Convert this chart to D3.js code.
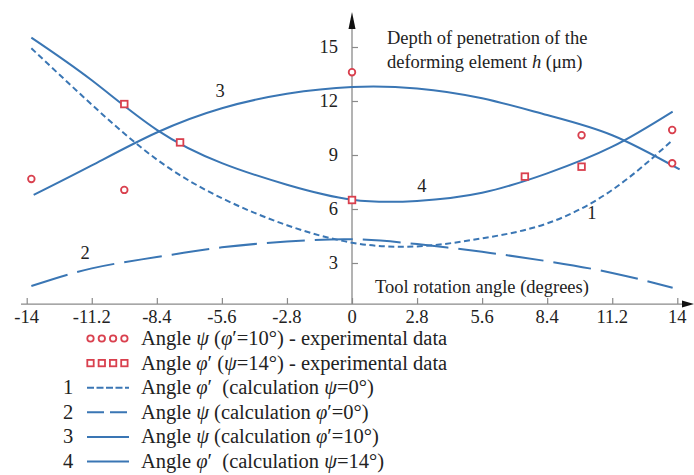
<!DOCTYPE html>
<html>
<head>
<meta charset="utf-8">
<script src="https://cdn.jsdelivr.net/npm/d3@7"></script>
<style>
  html, body { margin: 0; padding: 0; background: #fff; }
  text { font-family: "Liberation Serif", "Times New Roman", serif; fill: #222; white-space: pre; }
</style>
</head>
<body>
<svg id="chart" width="694" height="475"></svg>
<script>
// ---- data ----
const xTicks = [-14, -11.2, -8.4, -5.6, -2.8, 0, 2.8, 5.6, 8.4, 11.2, 14];
const xTickLabels = ["-14", "-11.2", "-8.4", "-5.6", "-2.8", "0", "2.8", "5.6", "8.4", "11.2", "14"];
const yTicks = [3, 6, 9, 12, 15];
const yTickLabels = ["3", "6", "9", "12", "15"];

const curveX = [-13.8, -11.2, -8.4, -5.6, -2.8, 0, 2.8, 5.6, 8.4, 11.2, 13.8];
const curve1 = [14.93, 11.8, 8.75, 6.6, 5.1, 4.13, 3.92, 4.37, 5.2, 7.06, 9.83];   // phi' calc psi=0 (short dash)
const curve2 = [1.72, 2.7, 3.33, 3.87, 4.19, 4.32, 4.05, 3.62, 3.1, 2.45, 1.62];   // psi calc phi'=0 (long dash)
const curve3X = [-13.7, -11.2, -8.4, -5.6, -2.8, 0, 2.8, 5.6, 8.4, 11.2, 14.1];
const curve3 = [6.78, 8.42, 10.25, 11.6, 12.4, 12.78, 12.7, 12.15, 11.22, 10.1, 8.2]; // psi calc phi'=10
const curve4 = [15.52, 13.15, 10.4, 8.55, 7.35, 6.52, 6.45, 6.9, 7.98, 9.46, 11.41];  // phi' calc psi=14

const circleX = [-13.8, -9.8, 0, 9.88, 13.78, 13.78];
const circleY = [7.67, 7.06, 13.6, 10.1, 10.39, 8.54];
const squareX = [-9.8, -7.4, 0, 7.44, 9.88];
const squareY = [11.83, 9.7, 6.5, 7.8, 8.35];

const curveLabels = ["1", "2", "3", "4"];
const curveLabelX = [10.32, -11.49, -5.68, 3.01];
const curveLabelY = [5.45, 3.22, 12.22, 6.94];

const legendNums = ["", "", "1", "2", "3", "4"];
const legendLabels = [
  "Angle ψ (φ′=10°) - experimental data",
  "Angle φ′ (ψ=14°) - experimental data",
  "Angle φ′  (calculation ψ=0°)",
  "Angle ψ (calculation φ′=0°)",
  "Angle ψ (calculation φ′=10°)",
  "Angle φ′  (calculation ψ=14°)"
];
const legendKinds = ["circle", "square", "dash1", "dash2", "solid", "solid"];

const yTitle1 = "Depth of penetration of the";
const yTitle2 = ["deforming element ", "h", " (μm)"];
const xTitle = "Tool rotation angle (degrees)";

// ---- styles ----
const blue = "#3a76b4";
const red = "#d9404e";
const axisCol = "#8a8a8a";
const dash1 = "6,3.5";
const dash2 = "38,10";
const fs = 18.5, legFs = 20.5;

const svg = d3.select("#chart");
const x = d3.scaleLinear().domain([-14, 14]).range([26.7, 677.3]);
const y = d3.scaleLinear().domain([0, 15]).range([317, 47]);
const axisAtY = 0.72;

// ---- axes ----
const x0 = x(0), yAx = y(axisAtY);
svg.append("line").attr("x1", 21).attr("x2", 684).attr("y1", yAx).attr("y2", yAx)
  .attr("stroke", axisCol).attr("stroke-width", 1.3);
svg.append("path").attr("d", `M694,${yAx} L682,${yAx - 3.5} L682,${yAx + 3.5} Z`).attr("fill", "#111");
svg.append("line").attr("x1", x0).attr("x2", x0).attr("y1", yAx).attr("y2", 24)
  .attr("stroke", axisCol).attr("stroke-width", 1.3);
svg.append("path").attr("d", `M${x0},12 L${x0 - 3.5},29 L${x0 + 3.5},29 Z`).attr("fill", "#111");

const xAxis = d3.axisTop(x).tickValues(xTicks).tickSize(6).tickFormat(() => "");
const gx = svg.append("g").attr("transform", `translate(0,${yAx})`).call(xAxis);
gx.select(".domain").remove();
gx.selectAll(".tick line").attr("stroke", axisCol).attr("stroke-width", 1.2);
svg.append("g").selectAll("text").data(xTicks).join("text")
  .attr("x", d => x(d)).attr("y", yAx + 19)
  .attr("text-anchor", "middle").attr("font-size", fs)
  .text((d, i) => xTickLabels[i]);

const yAxis = d3.axisRight(y).tickValues(yTicks).tickSize(6).tickFormat(() => "");
const gy = svg.append("g").attr("transform", `translate(${x0},0)`).call(yAxis);
gy.select(".domain").remove();
gy.selectAll(".tick line").attr("stroke", axisCol).attr("stroke-width", 1.2);
svg.append("g").selectAll("text").data(yTicks).join("text")
  .attr("x", x0 - 14).attr("y", d => y(d) + 6)
  .attr("text-anchor", "end").attr("font-size", fs)
  .text((d, i) => yTickLabels[i]);

// ---- titles ----
svg.append("text").attr("x", 387).attr("y", 44).attr("font-size", fs).text(yTitle1);
const t2 = svg.append("text").attr("x", 387).attr("y", 68).attr("font-size", fs);
yTitle2.forEach((s, i) => t2.append("tspan").attr("font-style", i === 1 ? "italic" : null).text(s));
svg.append("text").attr("x", 375).attr("y", 293).attr("font-size", fs).text(xTitle);

// ---- curves ----
const line = (xs) => d3.line().x((d, i) => x(xs[i])).y(d => y(d)).curve(d3.curveNatural);
const plot = svg.append("g").attr("fill", "none").attr("stroke", blue).attr("stroke-width", 2);
plot.append("path").attr("d", line(curveX)(curve1)).attr("stroke-dasharray", dash1);
plot.append("path").attr("d", line(curveX)(curve2)).attr("stroke-dasharray", dash2);
plot.append("path").attr("d", line(curve3X)(curve3));
plot.append("path").attr("d", line(curveX)(curve4));

svg.append("g").selectAll("text").data(curveLabels).join("text")
  .attr("x", (d, i) => x(curveLabelX[i])).attr("y", (d, i) => y(curveLabelY[i]))
  .attr("text-anchor", "middle").attr("font-size", fs).text(d => d);

// ---- markers ----
svg.append("g").selectAll("circle").data(circleX).join("circle")
  .attr("cx", d => x(d)).attr("cy", (d, i) => y(circleY[i])).attr("r", 3.3)
  .attr("fill", "#fff").attr("stroke", red).attr("stroke-width", 1.8);
svg.append("g").selectAll("rect").data(squareX).join("rect")
  .attr("x", d => x(d) - 3.3).attr("y", (d, i) => y(squareY[i]) - 3.3)
  .attr("width", 6.6).attr("height", 6.6)
  .attr("fill", "#fff").attr("stroke", red).attr("stroke-width", 1.8);

// ---- legend ----
const legY0 = 338.5, legDy = 24.6, sx0 = 87, sx1 = 129, txtX = 141;
const leg = svg.append("g");
legendLabels.forEach((lab, i) => {
  const cy = legY0 + i * legDy;
  const kind = legendKinds[i];
  if (kind === "circle") {
    [0, 1, 2, 3].forEach(k => leg.append("circle").attr("cx", 90.5 + k * 11.3).attr("cy", cy)
      .attr("r", 3.2).attr("fill", "#fff").attr("stroke", red).attr("stroke-width", 1.8));
  } else if (kind === "square") {
    [0, 1, 2, 3].forEach(k => leg.append("rect").attr("x", 90.5 + k * 11.3 - 3.2).attr("y", cy - 3.2)
      .attr("width", 6.4).attr("height", 6.4).attr("fill", "#fff").attr("stroke", red).attr("stroke-width", 1.8));
  } else {
    const l = leg.append("line").attr("x1", sx0).attr("x2", sx1).attr("y1", cy).attr("y2", cy)
      .attr("stroke", blue).attr("stroke-width", 2);
    if (kind === "dash1") l.attr("stroke-dasharray", "7,2.5");
    if (kind === "dash2") l.attr("stroke-dasharray", "17,6");
  }
  if (legendNums[i]) {
    leg.append("text").attr("x", 68).attr("y", cy + 6.5).attr("text-anchor", "middle")
      .attr("font-size", legFs).text(legendNums[i]);
  }
  const t = leg.append("text").attr("x", txtX).attr("y", cy + 6.5).attr("font-size", legFs);
  lab.split(/([ψφ])/).forEach(part => {
    if (!part) return;
    t.append("tspan").attr("font-style", /^[ψφ]$/.test(part) ? "italic" : null).text(part);
  });
});
</script>
</body>
</html>
